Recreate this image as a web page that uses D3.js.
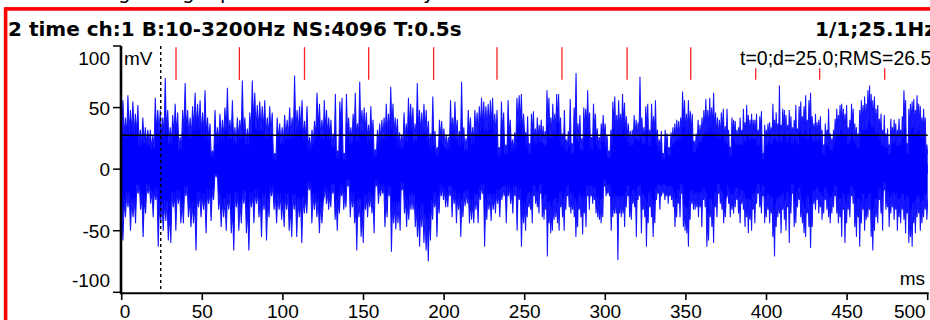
<!DOCTYPE html>
<html><head><meta charset="utf-8">
<script src="https://cdn.jsdelivr.net/npm/d3@7"></script>
<style>html,body{margin:0;padding:0;background:#fff;overflow:hidden}</style>
</head><body><svg id="c" width="930" height="320"></svg>
<script>
// ---------- data ----------
const titleText = "2 time ch:1 B:10-3200Hz NS:4096 T:0.5s";
const cursorText = "1/1;25.1Hz";
const infoText = "t=0;d=25.0;RMS=26.5";
const yUnit = "mV";
const xUnit = "ms";
const yTicks = [-100, -50, 0, 50, 100];
const xTicks = [0, 50, 100, 150, 200, 250, 300, 350, 400, 450, 500];
const rmsLevel = 27.5;
const cursorTime = 24.2;
const harmonicTimes = [33.7, 73.0, 113.4, 153.2, 193.5, 232.8, 273.1, 313.5, 353.0, 393.3, 433.0, 473.3];
const captionGlyphs = ["g", "g", "p", "y"];

// peak envelope of the waveform (mV), four consecutive 125 ms spans
const peakHiQ1 = [56,42,60,48,55,45,52,32,42,34,32,32,27,58,48,48,42,74,48,34,44,53,46,26,48,70,48,42,51,62,53,56,46,64,42,37,15,48,34,45,40,50,66,40,56,34,42,40,72,42,33,46,72,62,52,55,51,56,42,51,46,13,42,37,34,44,40,50,42,76,48,51,56,39,51,26,32,39,62,53,40];
const peakLoQ1 = [-58,-39,-31,-50,-39,-44,-20,-33,-55,-36,-20,-28,-39,-25,-63,-44,-50,-42,-58,-60,-31,-50,-28,-44,-44,-22,-39,-47,-44,-66,-31,-39,-33,-52,-28,-42,-25,-6,-33,-47,-39,-50,-33,-52,-66,-31,-50,-44,-28,-52,-66,-31,-44,-28,-39,-55,-33,-58,-39,-22,-33,-44,-33,-41,-47,-33,-50,-55,-33,-55,-39,-60,-36,-36,-17,-44,-33,-39,-52,-44];
const peakHiQ2 = [56,48,42,40,29,61,15,55,58,13,61,42,34,45,62,37,71,48,50,46,36,51,40,16,32,37,40,42,53,45,67,53,42,41,30,28,46,37,58,53,50,37,70,48,46,53,48,39,29,59,31,18,40,39,33,28,26,56,42,55,40,31,71,34,25,48,42,34,48,46,51,58,55,51,53,56,58,45,48,18,55,46,20,56,40,24,30,58,60,61,45];
const peakLoQ2 = [-22,-28,-33,-31,-20,-41,-50,-36,-22,-33,-31,-14,-39,-31,-44,-66,-39,-55,-60,-33,-39,-31,-36,-52,-14,-28,-22,-20,-47,-39,-22,-67,-44,-49,-44,-50,-17,-36,-47,-41,-33,-33,-47,-55,-63,-47,-60,-66,-75,-58,-41,-31,-55,-36,-22,-25,-31,-31,-22,-39,-28,-44,-33,-55,-39,-30,-28,-44,-41,-44,-33,-44,-25,-20,-63,-41,-33,-42,-33,-36,-28,-39,-25,-22,-44,-22,-28,-36,-22,-50,-25,-63,-44];
const peakHiQ3 = [30,43,21,45,47,33,42,36,40,35,31,64,58,42,53,45,61,61,42,29,48,24,31,57,21,50,78,37,44,25,50,49,64,46,26,53,45,33,26,37,44,37,28,15,32,55,59,44,56,45,61,54,43,37,31,32,44,40,38,75,42,34,51,53,32,53,43,56,32,24,31,13,32,29,18,30,34,37,40,39,42,63,56,45,56,47,45,23,29,40,36,42,48,57,48,58,50,62,46,42,40,46,49,35];
const peakLoQ3 = [-50,-39,-31,-33,-44,-22,-28,-31,-36,-20,-39,-41,-33,-71,-44,-52,-50,-41,-39,-44,-50,-31,-39,-50,-33,-22,-31,-36,-33,-39,-55,-47,-33,-39,-53,-36,-47,-22,-33,-22,-28,-25,-36,-39,-41,-44,-39,-14,-22,-20,-22,-50,-39,-36,-36,-74,-36,-39,-36,-47,-31,-22,-39,-41,-28,-31,-55,-25,-22,-52,-33,-39,-63,-44,-31,-39,-55,-44,-25,-20,-33,-22,-20,-25,-22,-28,-22,-25,-31,-47,-39,-28,-39,-20,-47,-50,-52,-63,-41,-28,-33,-33,-31,-39,-31,-47,-25,-31,-63,-58,-39,-47,-60,-31,-39,-20,-28,-33,-44,-39];
const peakHiQ4 = [49,32,18,42,40,39,32,34,42,32,49,38,52,44,40,45,40,40,45,32,43,47,13,36,32,37,38,34,53,40,46,37,68,36,49,48,44,36,48,43,34,40,52,33,51,55,43,51,60,40,56,62,43,37,45,38,40,43,32,20,37,32,49,29,25,32,41,49,44,52,53,49,45,52,34,40,53,49,37,34,29,48,56,52,59,53,64,68,61,56,59,49,52,41,45,32,44,29,33,20,41,34,40,37,32,41,32,43,64,56,21,49,53,55,57,48,60,53,51,42,49,42,20];
const peakLoQ4 = [-22,-28,-39,-33,-36,-31,-25,-36,-44,-28,-33,-47,-39,-52,-41,-50,-33,-44,-28,-20,-31,-36,-22,-44,-39,-33,-44,-36,-55,-71,-47,-39,-36,-52,-33,-41,-50,-31,-60,-36,-20,-47,-44,-31,-25,-39,-44,-52,-55,-36,-47,-64,-47,-28,-33,-25,-36,-31,-41,-36,-25,-33,-39,-44,-36,-31,-22,-36,-44,-39,-55,-33,-60,-44,-33,-39,-22,-28,-47,-55,-39,-63,-44,-33,-50,-41,-39,-33,-55,-66,-50,-39,-44,-25,-36,-50,-17,-33,-31,-47,-36,-31,-41,-33,-50,-39,-44,-33,-41,-52,-36,-60,-55,-63,-44,-52,-39,-36,-50,-44,-39,-33,-41];

// ---------- layout ----------
const svg = d3.select("#c");
const sans = "'Liberation Sans', Arial, sans-serif";
const bold = "'DejaVu Sans', sans-serif";
const x = d3.scaleLinear().domain([0, 500]).range([121.7, 927.7]);
const y = d3.scaleLinear().domain([-100, 100]).range([292.3, 46]);

svg.append("defs").append("clipPath").attr("id", "plotClip")
  .append("rect").attr("x", 122).attr("y", 46).attr("width", 806).attr("height", 247);

// caption text above the frame (only descenders visible)
const capX = [118, 182, 220, 423];
svg.selectAll("text.cap").data(captionGlyphs).join("text").attr("class", "cap")
  .attr("x", (d, i) => capX[i]).attr("y", -1.5)
  .attr("font-family", bold).attr("font-size", 20).attr("fill", "#000").text(d => d);

// red frame
svg.append("rect").attr("x", 5.6).attr("y", 8.9).attr("width", 960).attr("height", 400)
  .attr("fill", "none").attr("stroke", "#ff0000").attr("stroke-width", 3.6);

// waveform: spikes from the peak envelope, solid between neighbouring peaks
const quarters = [[peakHiQ1, peakLoQ1], [peakHiQ2, peakLoQ2], [peakHiQ3, peakLoQ3], [peakHiQ4, peakLoQ4]];
const span = 125;
function spikes(which) {
  const pts = [];
  quarters.forEach((q, qi) => {
    const arr = q[which], n = arr.length, step = span / n;
    arr.forEach((v, i) => {
      const t = qi * span + (i + 0.5) * step;
      const next = i < n - 1 ? arr[i + 1] : v;
      const valley = which === 0 ? 0.6 * Math.min(v, next) : 0.6 * Math.max(v, next);
      pts.push([t, v]);
      pts.push([t + step / 2, valley]);
    });
  });
  pts.unshift([0, pts[1][1]]);
  pts.push([500, pts[pts.length - 1][1]]);
  return pts;
}
const wave = svg.append("g").attr("clip-path", "url(#plotClip)");
const line = d3.line().x(d => x(d[0])).y(d => y(d[1]));
[0, 1].forEach(w => {
  const pts = spikes(w);
  const base = w === 0 ? -4 : 4;
  const area = d3.area().x(d => x(d[0])).y0(y(base)).y1(d => y(d[1]));
  wave.append("path").attr("d", area(pts)).attr("fill", "#0000ff").attr("stroke", "none");
  wave.append("path").attr("d", line(pts)).attr("fill", "none")
    .attr("stroke", "#1414ff").attr("stroke-width", 1.05);
});

// RMS level line
svg.append("line").attr("x1", x(0)).attr("x2", x(500)).attr("y1", y(rmsLevel)).attr("y2", y(rmsLevel))
  .attr("stroke", "#000").attr("stroke-width", 1.6);

// cursor dashed line
svg.append("line").attr("x1", x(cursorTime)).attr("x2", x(cursorTime)).attr("y1", y(100)).attr("y2", y(-100))
  .attr("stroke", "#000").attr("stroke-width", 1.4).attr("stroke-dasharray", "3,3");

// harmonic markers
const infoX = 740;
svg.selectAll("line.harm").data(harmonicTimes).join("line").attr("class", "harm")
  .attr("x1", d => x(d)).attr("x2", d => x(d))
  .attr("y1", d => x(d) > infoX ? y(82) : y(99)).attr("y2", y(72.5))
  .attr("stroke", "#ff2020").attr("stroke-width", 1.3);

// axes
const yAxis = svg.append("g");
yAxis.append("line").attr("x1", 121).attr("x2", 121).attr("y1", y(100)).attr("y2", y(-100) + 1)
  .attr("stroke", "#000").attr("stroke-width", 2.6);
yTicks.forEach((v, i) => {
  yAxis.append("line").attr("x1", 113).attr("x2", 121).attr("y1", y(v)).attr("y2", y(v))
    .attr("stroke", "#000").attr("stroke-width", 1.5);
  let ty = y(v) + 7;
  if (v === 100) ty = y(v) + 19;
  if (v === -100) ty = y(v) - 5;
  yAxis.append("text").attr("x", 110).attr("y", ty).attr("text-anchor", "end")
    .attr("font-family", sans).attr("font-size", 19).attr("fill", "#000").text(v);
});
const xAxis = svg.append("g");
xAxis.append("line").attr("x1", 120).attr("x2", x(500) + 1).attr("y1", 293.3).attr("y2", 293.3)
  .attr("stroke", "#000").attr("stroke-width", 2);
xTicks.forEach((v, i) => {
  xAxis.append("line").attr("x1", x(v)).attr("x2", x(v)).attr("y1", 293).attr("y2", 300)
    .attr("stroke", "#000").attr("stroke-width", 1.6);
  let anchor = "middle", tx = x(v);
  if (v === 0) { anchor = "start"; tx = x(v) - 2; }
  if (v === 500) { anchor = "end"; tx = x(v) - 2; }
  xAxis.append("text").attr("x", tx).attr("y", 318).attr("text-anchor", anchor)
    .attr("font-family", sans).attr("font-size", 19).attr("fill", "#000").text(v);
});

// unit labels
svg.append("text").attr("x", 124).attr("y", 65).attr("font-family", sans).attr("font-size", 19).text(yUnit);
svg.append("text").attr("x", 925).attr("y", 285).attr("text-anchor", "end").attr("font-family", sans).attr("font-size", 19).text(xUnit);

// header texts
svg.append("text").attr("x", 8).attr("y", 36).attr("font-family", bold).attr("font-weight", "bold")
  .attr("font-size", 20).attr("fill", "#000").text(titleText);
svg.append("text").attr("x", 815).attr("y", 36).attr("font-family", bold).attr("font-weight", "bold")
  .attr("font-size", 20).attr("fill", "#000").text(cursorText);
svg.append("text").attr("x", infoX).attr("y", 65).attr("font-family", sans)
  .attr("font-size", 19.5).attr("fill", "#000").text(infoText);
</script></body></html>
